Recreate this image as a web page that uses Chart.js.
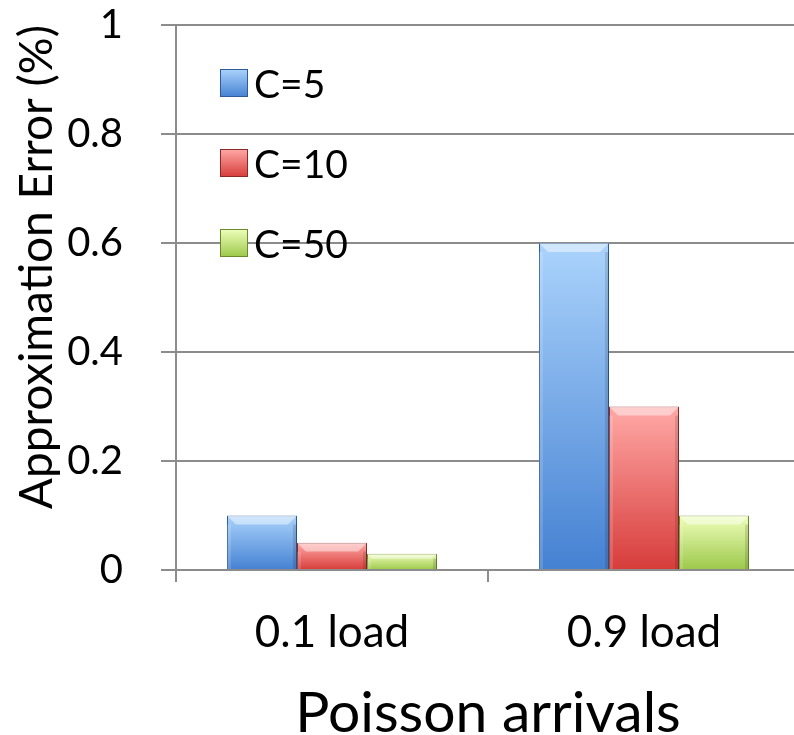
<!DOCTYPE html>
<html>
<head>
<meta charset="utf-8">
<script src="https://cdn.jsdelivr.net/npm/chart.js@4.4.1/dist/chart.umd.min.js"></script>
<style>
    html, body { margin: 0; padding: 0; background: #fff; overflow: hidden; }
    #wrap { width: 804px; height: 735px; }
</style>
</head>
<body>
<div id="wrap"><canvas id="errorChart"></canvas></div>
<script>
const categories = ['0.1 load', '0.9 load'];
const seriesLabels = ['C=5', 'C=10', 'C=50'];
const c5Values = [0.1, 0.6];
const c10Values = [0.05, 0.3];
const c50Values = [0.03, 0.1];
const yTicks = [0, 0.2, 0.4, 0.6, 0.8, 1];

// top / bottom colours of each bar gradient, plus edge colour
const palette = [
    { top: '#abd3fc', bottom: '#4581d2', edge: '#2f5c98' },
    { top: '#ffa9a7', bottom: '#d63c3a', edge: '#8a2a28' },
    { top: '#efffbb', bottom: '#9cc84a', edge: '#6a8a2c' }
];

const fontFamily = 'Lato, "Open Sans", sans-serif';

function barFill(colors) {
    return function (ctx) {
        const chart = ctx.chart;
        const y = chart.scales.y;
        if (!y || !ctx.parsed) return colors.bottom;
        const y0 = y.getPixelForValue(0);
        const y1 = y.getPixelForValue(ctx.parsed.y);
        if (!isFinite(y0) || !isFinite(y1) || y0 === y1) return colors.bottom;
        const g = chart.ctx.createLinearGradient(0, y1, 0, y0);
        g.addColorStop(0, colors.top);
        g.addColorStop(1, colors.bottom);
        return g;
    };
}

// light bevel on the top of each bar
const bevelPlugin = {
    id: 'bevel',
    afterDatasetsDraw(chart) {
        const ctx = chart.ctx;
        ctx.save();
        chart.data.datasets.forEach((ds, i) => {
            chart.getDatasetMeta(i).data.forEach(bar => {
                const left = bar.x - bar.width / 2;
                const right = bar.x + bar.width / 2;
                const top = bar.y;
                const bev = Math.min(9, (bar.base - bar.y) / 3);
                ctx.fillStyle = 'rgba(255,255,255,0.45)';
                ctx.beginPath();
                ctx.moveTo(left, top);
                ctx.lineTo(right, top);
                ctx.lineTo(right - bev, top + bev);
                ctx.lineTo(left + bev, top + bev);
                ctx.closePath();
                ctx.fill();
                ctx.fillStyle = 'rgba(0,0,0,0.12)';
                ctx.fillRect(right - 4, top + bev, 4, bar.base - top - bev);
                ctx.fillStyle = 'rgba(255,255,255,0.15)';
                ctx.fillRect(left, top + bev, 4, bar.base - top - bev);
            });
        });
        ctx.restore();
    }
};

// legend drawn inside the plot area, top-left
const innerLegend = {
    id: 'innerLegend',
    afterDraw(chart) {
        const ctx = chart.ctx;
        const area = chart.chartArea;
        const boxX = area.left + 44;
        const box = 28;
        ctx.save();
        ctx.font = '39px ' + fontFamily;
        ctx.textBaseline = 'middle';
        chart.data.datasets.forEach((ds, i) => {
            const cy = area.top + 58 + i * 80;
            const colors = palette[i];
            const g = ctx.createLinearGradient(0, cy - box / 2, 0, cy + box / 2);
            g.addColorStop(0, colors.top);
            g.addColorStop(1, colors.bottom);
            ctx.fillStyle = g;
            ctx.fillRect(boxX, cy - box / 2, box, box);
            ctx.strokeStyle = colors.edge;
            ctx.lineWidth = 1;
            ctx.strokeRect(boxX + 0.5, cy - box / 2 + 0.5, box - 1, box - 1);
            ctx.fillStyle = '#000';
            ctx.fillText(ds.label, boxX + box + 6, cy + 2);
        });
        ctx.restore();
    }
};

const datasets = [c5Values, c10Values, c50Values].map((vals, i) => ({
    label: seriesLabels[i],
    data: vals,
    backgroundColor: barFill(palette[i]),
    borderColor: palette[i].edge,
    borderWidth: 1,
    barPercentage: 1,
    categoryPercentage: 0.673
}));

new Chart(document.getElementById('errorChart').getContext('2d'), {
    type: 'bar',
    data: { labels: categories, datasets: datasets },
    options: {
        responsive: true,
        maintainAspectRatio: false,
        animation: false,
        layout: { padding: { top: 25, right: 4, left: 0, bottom: 0 } },
        plugins: {
            legend: { display: false },
            tooltip: { enabled: false }
        },
        scales: {
            x: {
                offset: true,
                grid: {
                    offset: true,
                    drawOnChartArea: false,
                    color: '#8c8c8c',
                    lineWidth: 2,
                    tickLength: 12
                },
                border: { color: '#8c8c8c', width: 2 },
                ticks: {
                    color: '#000',
                    padding: 24,
                    font: { family: fontFamily, size: 44 }
                },
                title: {
                    display: true,
                    text: 'Poisson arrivals',
                    color: '#000',
                    font: { family: fontFamily, size: 57, lineHeight: 1 },
                    padding: { top: 0, bottom: -7 }
                },
                afterFit(scale) {
                    scale.height = 165;
                    scale.paddingLeft = 0;
                    scale.paddingRight = 0;
                }
            },
            y: {
                min: 0,
                max: 1,
                afterBuildTicks(scale) {
                    scale.ticks = yTicks.map(v => ({ value: v }));
                },
                grid: {
                    color: '#8c8c8c',
                    lineWidth: 2,
                    tickLength: 15
                },
                border: { color: '#8c8c8c', width: 2 },
                ticks: {
                    color: '#000',
                    padding: 38,
                    font: { family: fontFamily, size: 40 },
                    callback: v => String(v)
                },
                title: {
                    display: true,
                    text: 'Approximation Error (%)',
                    align: 'end',
                    color: '#000',
                    font: { family: fontFamily, size: 46, lineHeight: 1 },
                    padding: { top: 14, bottom: 0 }
                },
                afterFit(scale) {
                    scale.width = 176;
                    scale.paddingTop = 0;
                    scale.paddingBottom = 0;
                }
            }
        }
    },
    plugins: [bevelPlugin, innerLegend]
});
</script>
</body>
</html>
